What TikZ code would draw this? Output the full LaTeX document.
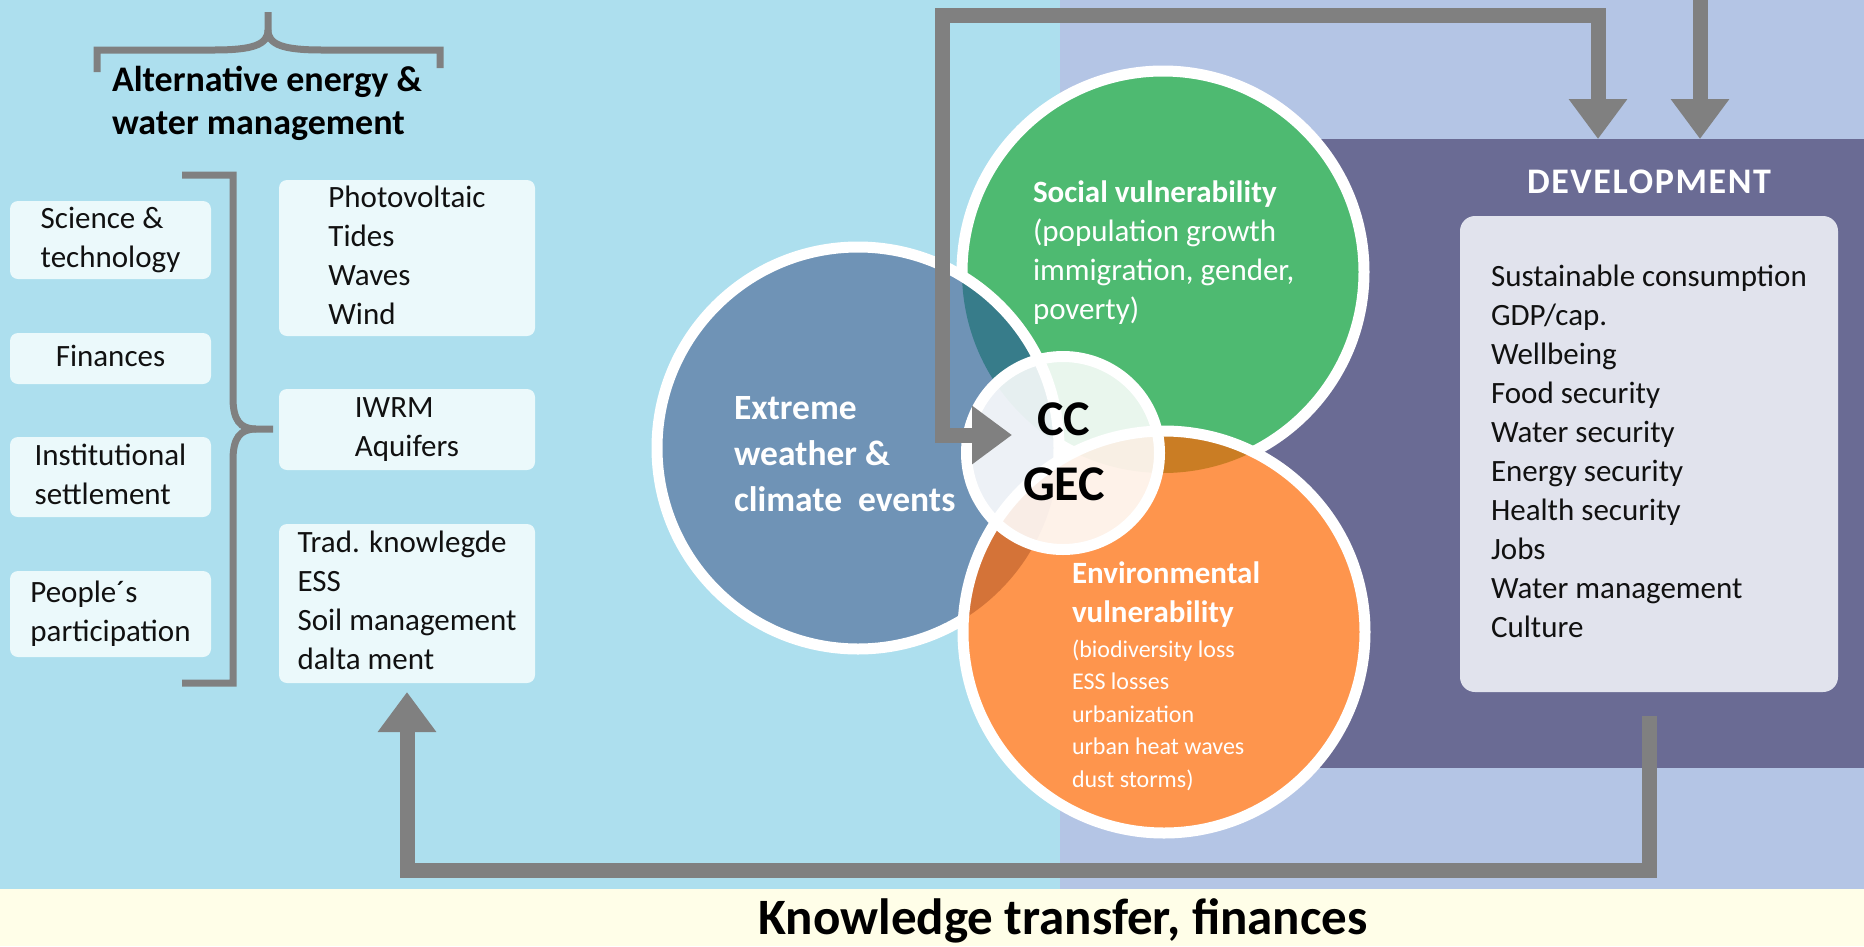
\documentclass[tikz,border=0pt]{standalone}
\usepackage{fontspec}
\setmainfont{Carlito}
\usetikzlibrary{arrows.meta,calc}

\definecolor{skybg}{HTML}{ADDFEE}
\definecolor{lavbg}{HTML}{B4C5E5}
\definecolor{devbg}{HTML}{6A6B94}
\definecolor{listbg}{HTML}{E1E3ED}
\definecolor{boxbg}{HTML}{EBF9FB}
\definecolor{creambg}{HTML}{FFFEE8}
\definecolor{linegray}{HTML}{808080}
\definecolor{cblue}{HTML}{6F93B6}
\definecolor{cgreen}{HTML}{4EBA71}
\definecolor{corange}{HTML}{FE954D}
\definecolor{cteal}{HTML}{377C8A}
\definecolor{cbrown}{HTML}{CA7D24}
\definecolor{cdkorange}{HTML}{D47338}
\definecolor{inktext}{HTML}{111111}

% stacked lines whose baseline is the first line
\newcommand{\mlines}[1]{\begin{tabular}[t]{@{}l@{}}#1\end{tabular}}
\newcommand{\clines}[1]{\begin{tabular}[t]{@{}c@{}}#1\end{tabular}}

\tikzset{
  sidebox/.style={rectangle, rounded corners=8pt, fill=boxbg, inner sep=0pt, outer sep=0pt,
    text=inktext, font=\fontsize{31}{39}\selectfont},
  leftcol/.style={sidebox, minimum width=201pt},
  rightcol/.style={sidebox, minimum width=256pt},
  bracket/.style={draw=linegray, line width=7pt},
  gline/.style={draw=linegray, line width=15pt},
  bigtip/.style={-{Triangle[length=40pt,width=56pt]}},
  disc/.style={circle, minimum size=402pt, inner sep=0pt, outer sep=0pt},
  ring/.style={draw=white, line width=11pt},
  plain/.style={inner sep=0pt, outer sep=0pt},
}

\begin{document}
\begin{tikzpicture}[x=1pt,y=-1pt]
\useasboundingbox (0,0) rectangle (1864,946);

% background bands
\fill[skybg] (0,0) rectangle (1060,889);
\fill[lavbg] (1060,0) rectangle (1864,889);
\fill[creambg] (0,889) rectangle (1864,946);

% development panel
\node[plain, fill=devbg, minimum width=624pt, minimum height=629pt] (dev) at (1552,453.5) {};
\node[plain, text=white, anchor=base, font=\bfseries\fontsize{36}{44}\selectfont\addfontfeature{LetterSpace=4.5}]
  (devtitle) at (1649,193) {DEVELOPMENT};
\node[plain, rounded corners=15pt, fill=listbg, minimum width=378pt, minimum height=476pt,
  text=inktext, font=\fontsize{31}{39}\selectfont] (devlist) at (1649,454)
  {\mlines{Sustainable consumption\\GDP/cap.\\Wellbeing\\Food security\\Water security\\Energy security\\Health security\\Jobs\\Water management\\Culture}};

% left heading with its brace
\node[plain, anchor=base west, text=black, font=\bfseries\fontsize{36}{43}\selectfont]
  (alt) at (112,91) {\mlines{Alternative energy \&\\water management}};
\draw[bracket] (97,72) -- (97,50) -- (214,50) .. controls (252,50) and (268,45) .. (268,30) -- (268,12);
\draw[bracket] (268,30) .. controls (268,45) and (284,50) .. (322,50) -- (440,50) -- (440,68);

% left column of boxes
\node[leftcol, minimum height=78pt] (sci) at (110.5,240) {\mlines{Science \&\\technology}};
\node[leftcol, minimum height=51pt] (fin) at (110.5,358.5) {\mlines{Finances}};
\node[leftcol, minimum height=80pt] (inst) at (110.5,477) {\mlines{Institutional\\settlement}};
\node[leftcol, minimum height=86pt] (ppl) at (110.5,614) {\mlines{People´s\\participation}};

% vertical brace
\draw[bracket] (182,175) -- (233,175) -- (233,398) .. controls (233,420) and (240,429) .. (256,429) -- (273,429);
\draw[bracket] (256,429) .. controls (240,429) and (233,438) .. (233,460) -- (233,683) -- (182,683);

% right column of boxes
\node[rightcol, minimum height=156pt] (pv) at (407,258) {\mlines{Photovoltaic\\Tides\\Waves\\Wind}};
\node[rightcol, minimum height=81pt] (iwrm) at (407,429.5) {\mlines{IWRM\\Aquifers}};
\node[rightcol, minimum height=159pt] (trad) at (407,603.5) {\mlines{Trad. knowlegde\\ESS\\Soil management\\dalta ment}};

% three overlapping discs
\node[disc, fill=cgreen] (social) at (1163,272) {};
\draw[ring] (social.center) circle (201);
\node[disc, fill=cblue] (extreme) at (858,448) {};
\begin{scope}
  \clip (extreme.center) circle (201);
  \fill[cteal] (social.center) circle (201);
\end{scope}
\draw[ring] (extreme.center) circle (201);
\node[disc, fill=corange] (env) at (1164,632) {};
\begin{scope}
  \clip (env.center) circle (201);
  \fill[cbrown] (social.center) circle (201);
  \fill[cdkorange] (extreme.center) circle (201);
\end{scope}
\draw[ring] (env.center) circle (201);

% central disc
\node[circle, minimum size=193pt, inner sep=0pt, outer sep=0pt, fill=white, fill opacity=0.88,
  draw=white, draw opacity=1, line width=11pt] (core) at (1063,453) {};

% disc labels
\node[plain, anchor=base west, text=white, font=\bfseries\fontsize{35.5}{46}\selectfont]
  (extremetxt) at (734,419) {\mlines{Extreme\\weather \&\\climate\ \ events}};
\node[plain, anchor=base west, text=white, font=\fontsize{31}{39}\selectfont]
  (socialtxt) at (1033,202) {\mlines{\textbf{Social vulnerability}\\(population growth\\immigration, gender,\\poverty)}};
\node[plain, anchor=base west, text=white, font=\bfseries\fontsize{31}{39}\selectfont]
  (envtxt) at (1072,583) {\mlines{Environmental\\vulnerability}};
\node[plain, anchor=base west, text=white, font=\fontsize{24}{32.5}\selectfont]
  (envlist) at (1072,657) {\mlines{(biodiversity loss\\ESS losses\\urbanization\\urban heat waves\\dust storms)}};
\node[plain, anchor=base, text=black, font=\bfseries\fontsize{50}{65}\selectfont]
  (cc) at (1064,435) {\clines{CC\\GEC}};

% bottom band label
\node[plain, anchor=base, text=black, font=\bfseries\fontsize{51}{60}\selectfont]
  (transfer) at (1063,934) {Knowledge transfer, finances};

% connectors
\coordinate (bendL) at (942,15.5);
\coordinate (bendR) at (1598,15.5);
\coordinate (feed) at (1700,0);
\coordinate (lowrun) at (0,870);
\draw[gline, {Triangle[length=40pt,width=56pt]}-{Triangle[length=40pt,width=56pt]}]
  ([xshift=-52pt]cc.base) -| (bendL) -| (bendR |- dev.north);
\draw[gline, bigtip] (feed) -- (feed |- dev.north);
\draw[gline, bigtip, shorten <=24pt, shorten >=9pt]
  (devlist.south) -- (devlist.south |- lowrun) -- (trad.south |- lowrun) -- (trad.south);
\end{tikzpicture}
\end{document}
